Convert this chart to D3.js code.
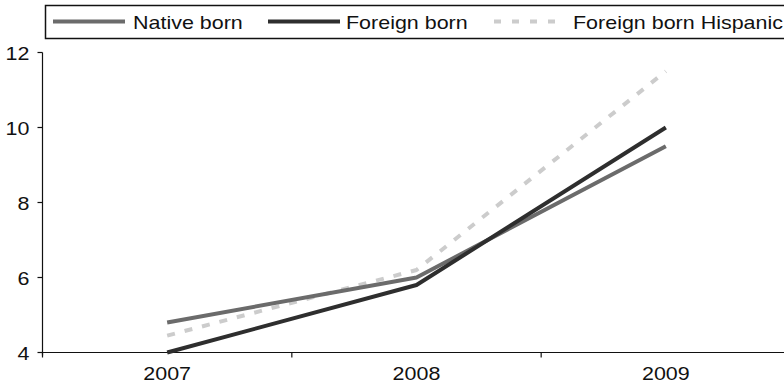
<!DOCTYPE html>
<html>
<head>
<meta charset="utf-8">
<script src="https://cdn.jsdelivr.net/npm/d3@7"></script>
<style>
  html, body { margin: 0; padding: 0; background: #fff; }
  svg { display: block; }
  text { font-family: "Liberation Sans", Arial, sans-serif; fill: #111; }
</style>
</head>
<body>
<svg id="chart" width="784" height="385"></svg>
<script>
const years = ["2007", "2008", "2009"];
const nativeBorn = [4.8, 6.0, 9.5];
const foreignBorn = [4.0, 5.8, 10.0];
const foreignBornHispanic = [4.45, 6.2, 11.5];
const yTicks = [4, 6, 8, 10, 12];
const seriesNames = ["Native born", "Foreign born", "Foreign born Hispanic"];

const series = [
  { name: seriesNames[0], values: nativeBorn, color: "#6b6b6b", dash: null },
  { name: seriesNames[1], values: foreignBorn, color: "#2e2e2e", dash: null },
  { name: seriesNames[2], values: foreignBornHispanic, color: "#cccccc", dash: "8,10" }
];

const svg = d3.select("#chart");
const mLeft = 42.5, mRight = 790.5, mTop = 52.5, mBottom = 352.5;
const FS = 19, SX = 1.13;

const x = d3.scaleBand().domain(years).range([mLeft, mRight]).paddingInner(0).paddingOuter(0);
const y = d3.scaleLinear().domain([4, 12]).range([mBottom, mTop]);

function stretchedText(g, xPos, yPos, str, anchor) {
  return g.append("text")
    .attr("transform", `translate(${xPos},${yPos}) scale(${SX},1)`)
    .attr("text-anchor", anchor)
    .attr("font-size", FS)
    .text(str);
}

// Y axis
const yAxis = svg.append("g");
yAxis.append("line").attr("x1", mLeft).attr("x2", mLeft).attr("y1", mTop).attr("y2", mBottom + 3)
  .attr("stroke", "#111").attr("stroke-width", 1.2);
yTicks.forEach(t => {
  yAxis.append("line").attr("x1", mLeft - 5).attr("x2", mLeft).attr("y1", y(t)).attr("y2", y(t))
    .attr("stroke", "#111").attr("stroke-width", 1.2);
  stretchedText(yAxis, mLeft - 13, y(t) + 7, String(t), "end");
});

// X axis
const xAxis = svg.append("g");
xAxis.append("line").attr("x1", mLeft).attr("x2", mRight).attr("y1", mBottom).attr("y2", mBottom)
  .attr("stroke", "#111").attr("stroke-width", 1.2);
const boundaries = years.map(d => x(d)).concat([x(years[years.length - 1]) + x.bandwidth()]);
boundaries.forEach(b => {
  xAxis.append("line").attr("x1", b).attr("x2", b).attr("y1", mBottom).attr("y2", mBottom + 5)
    .attr("stroke", "#111").attr("stroke-width", 1.2);
});
years.forEach(d => {
  stretchedText(xAxis, x(d) + x.bandwidth() / 2, 380, d, "middle");
});

// Lines
const line = d3.line()
  .x((d, i) => x(years[i]) + x.bandwidth() / 2)
  .y(d => y(d));

[series[2], series[0], series[1]].forEach(s => {
  svg.append("path")
    .datum(s.values)
    .attr("d", line)
    .attr("fill", "none")
    .attr("stroke", s.color)
    .attr("stroke-width", 4)
    .attr("stroke-dasharray", s.dash)
    .attr("stroke-linejoin", "round");
});

// Legend
const legend = svg.append("g");
legend.append("rect").attr("x", 45.5).attr("y", 5.5).attr("width", 760).attr("height", 33)
  .attr("fill", "#fff").attr("stroke", "#111").attr("stroke-width", 1.5);
const legendPos = [
  { x1: 53, x2: 125, tx: 133 },
  { x1: 268, x2: 340, tx: 346 },
  { x1: 494, x2: 562, tx: 573 }
];
series.forEach((s, i) => {
  const p = legendPos[i];
  legend.append("line").attr("x1", p.x1).attr("x2", p.x2).attr("y1", 21.5).attr("y2", 21.5)
    .attr("stroke", s.color).attr("stroke-width", 4)
    .attr("stroke-dasharray", s.dash ? "7,11" : null);
  stretchedText(legend, p.tx, 29, s.name, "start");
});
</script>
</body>
</html>
